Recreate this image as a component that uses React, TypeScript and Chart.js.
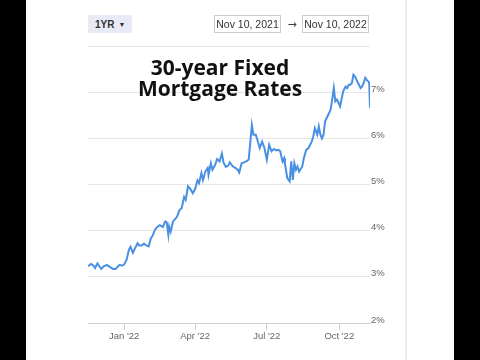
import React, { useEffect, useRef } from "react";
import { Chart, registerables } from "chart.js";

Chart.register(...registerables);

// Days relative to Jan 1, 2022
const days = [
  -46, -42, -39, -37, -34, -32, -29, -26, -22, -17, -14, -11, -6, -3, 0, 3, 6, 8, 11, 14,
  17, 19, 22, 25, 28, 31, 34, 36, 39, 42, 45, 49, 52, 54, 56, 57, 59, 62, 67, 70,
  73, 76, 78, 81, 84, 87, 90, 93, 95, 98, 100, 103, 106, 107, 110, 112, 115, 118, 121, 124,
  126, 129, 132, 134, 138, 141, 144, 146, 149, 152, 155, 158, 160, 162, 164, 167, 169, 172, 175, 178,
  181, 184, 187, 190, 193, 196, 198, 201, 203, 204, 207, 210, 212, 214, 216, 218, 220, 222, 226, 228,
  231, 234, 236, 238, 240, 242, 245, 247, 249, 251, 253, 255, 257, 259, 262, 264, 266, 268, 270, 272,
  274, 278, 281, 283, 285, 287, 289, 291, 293, 295, 298, 300, 302, 304, 306, 308, 310, 311, 312,
];

const rates = [
  3.23, 3.28, 3.24, 3.19, 3.29, 3.24, 3.17, 3.23, 3.26, 3.2, 3.17, 3.17, 3.26, 3.24, 3.27, 3.37, 3.59, 3.65, 3.52, 3.63,
  3.73, 3.68, 3.68, 3.72, 3.68, 3.66, 3.84, 3.89, 4.02, 4.08, 4.12, 4.08, 4.2, 4.18, 3.91, 4.09, 3.98, 4.2, 4.3, 4.44,
  4.49, 4.73, 4.67, 4.96, 4.9, 4.81, 4.9, 5.09, 5.03, 5.25, 5.1, 5.28, 5.36, 5.21, 5.46, 5.32, 5.41, 5.55, 5.5, 5.67,
  5.48, 5.38, 5.41, 5.48, 5.39, 5.36, 5.32, 5.26, 5.46, 5.48, 5.5, 5.54, 5.9, 6.29, 6.08, 6.08, 5.97, 5.79, 5.93, 5.79,
  5.54, 5.86, 5.72, 5.77, 5.74, 5.75, 5.72, 5.5, 5.57, 5.45, 5.14, 5.07, 5.5, 5.1, 5.46, 5.32, 5.39, 5.28, 5.39, 5.57,
  5.75, 5.79, 5.86, 5.93, 6.04, 6.22, 6.08, 6.26, 6.08, 6.0, 6.08, 6.37, 6.44, 6.51, 6.62, 6.84, 7.09, 6.8, 6.84, 6.77,
  6.69, 7.02, 7.12, 7.09, 7.16, 7.16, 7.2, 7.38, 7.34, 7.26, 7.16, 7.09, 7.12, 7.2, 7.31, 7.26, 7.23, 7.2, 6.66,
];

const xTickDays = [0, 90, 181, 273];
const xTickLabels = ["Jan '22", "Apr '22", "Jul '22", "Oct '22"];
const yTicks = [2, 3, 4, 5, 6, 7, 8];

const title = ["30-year Fixed", "Mortgage Rates"];
const rangeLabel = "1YR";
const startDate = "Nov 10, 2021";
const endDate = "Nov 10, 2022";

const FONT = "'Liberation Sans', Arial, sans-serif";

export default function App() {
  const ref = useRef<HTMLCanvasElement | null>(null);

  useEffect(() => {
    if (!ref.current) return;
    const chart = new Chart(ref.current, {
      type: "line",
      data: {
        datasets: [
          {
            data: days.map((d, i) => ({ x: d, y: rates[i] })),
            borderColor: "#4a90e2",
            borderWidth: 2,
            pointRadius: 0,
            tension: 0,
            fill: false,
          },
        ],
      },
      options: {
        animation: false,
        responsive: false,
        events: [],
        layout: { padding: { left: 88, right: 80, top: 46, bottom: 7 } },
        plugins: { legend: { display: false }, tooltip: { enabled: false }, title: { display: false } },
        scales: {
          x: {
            type: "linear",
            min: -46,
            max: 312,
            afterBuildTicks: (scale: any) => {
              scale.ticks = xTickDays.map((v) => ({ value: v }));
            },
            afterFit: (scale: any) => {
              scale.height = 30;
            },
            ticks: {
              autoSkip: false,
              maxRotation: 0,
              padding: 1,
              color: "#666",
              font: { family: FONT, size: 9.5 },
              callback: (value: any) => {
                const i = xTickDays.indexOf(Number(value));
                return i >= 0 ? xTickLabels[i] : "";
              },
            },
            grid: {
              drawOnChartArea: false,
              drawTicks: true,
              tickLength: 7,
              color: "#cfcfcf",
            },
            border: { display: true, color: "#cfcfcf", width: 1 },
          },
          y: {
            position: "right",
            min: 2,
            max: 8,
            afterBuildTicks: (scale: any) => {
              scale.ticks = yTicks.map((v) => ({ value: v }));
            },
            afterFit: (scale: any) => {
              scale.width = 30;
            },
            ticks: {
              padding: 1,
              labelOffset: -3,
              color: "#666",
              font: { family: FONT, size: 9.5 },
              callback: (value: any) => (Number(value) === 8 ? "" : value + "%"),
            },
            grid: {
              drawTicks: false,
              color: (ctx: any) => (ctx.tick && ctx.tick.value === 2 ? "#cfcfcf" : "#e6e6e6"),
            },
            border: { display: false },
          },
        },
      },
    });
    return () => chart.destroy();
  }, []);

  const box: React.CSSProperties = {
    position: "absolute",
    top: 15,
    height: 18,
    boxSizing: "border-box",
    border: "1px solid #cccccc",
    background: "#fff",
    fontFamily: FONT,
    fontSize: 10.5,
    color: "#333",
    display: "flex",
    alignItems: "center",
    justifyContent: "center",
    whiteSpace: "nowrap",
  };

  return (
    <div
      style={{
        position: "fixed",
        left: 0,
        top: 0,
        width: 480,
        height: 360,
        background: "#000",
        overflow: "hidden",
      }}
    >
      <div style={{ position: "absolute", left: 26, top: 0, width: 428, height: 360, background: "#fff" }} />
      <div style={{ position: "absolute", left: 405, top: 0, width: 2, height: 360, background: "#ededed" }} />
      <canvas ref={ref} width={480} height={360} style={{ position: "absolute", left: 0, top: 0 }} />
      <div
        style={{
          position: "absolute",
          left: 88,
          top: 15,
          width: 44,
          height: 18,
          background: "#e8eaf5",
          borderRadius: 2,
          display: "flex",
          alignItems: "center",
          paddingLeft: 7,
          boxSizing: "border-box",
          fontFamily: FONT,
          fontSize: 10,
          fontWeight: "bold",
          color: "#333",
          whiteSpace: "nowrap",
        }}
      >
        {rangeLabel}
        <span style={{ fontSize: 7, marginLeft: 4, fontWeight: "normal" }}>▼</span>
      </div>
      <div style={{ ...box, left: 214, width: 67 }}>{startDate}</div>
      <div
        style={{
          position: "absolute",
          left: 284,
          top: 14,
          width: 16,
          height: 20,
          display: "flex",
          alignItems: "center",
          justifyContent: "center",
          fontFamily: "'DejaVu Sans', sans-serif",
          fontSize: 11,
          color: "#444",
        }}
      >
        →
      </div>
      <div style={{ ...box, left: 302, width: 67 }}>{endDate}</div>
      <div
        style={{
          position: "absolute",
          left: 100,
          top: 57,
          width: 240,
          textAlign: "center",
          fontFamily: "'Open Sans', sans-serif",
          fontWeight: "bold",
          fontSize: 21,
          lineHeight: "21px",
          color: "#111",
          whiteSpace: "nowrap",
        }}
      >
        {title[0]}
        <br />
        {title[1]}
      </div>
    </div>
  );
}
